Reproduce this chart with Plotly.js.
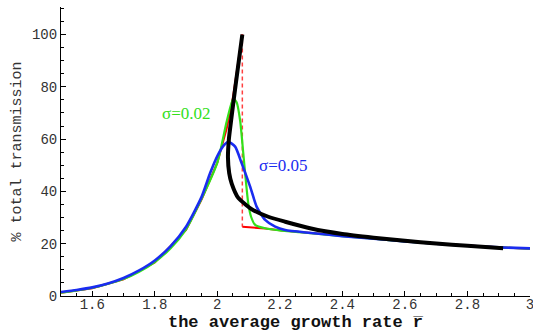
<!DOCTYPE html>
<html>
<head>
<meta charset="utf-8">
<script src="https://cdn.plot.ly/plotly-3.0.1.min.js"></script>
<style>html,body{margin:0;padding:0;background:#fff;}#chart{width:533px;height:332px;}</style>
</head>
<body>
<div id="chart"></div>
<script>
// red: deterministic curve (left branch, jump, right branch)
const redLeftX = [1.5, 1.6, 1.7, 1.8, 1.9, 1.95, 2.0, 2.03, 2.05, 2.065, 2.08];
const redLeftY = [1.2, 3.0, 6.4, 12.8, 25.3, 37, 51, 64, 76, 88, 100];
const redDropX = [2.08, 2.08];
const redDropY = [100, 26.5];
const redRightX = [2.08, 2.12, 2.153, 2.2, 2.3, 2.4, 2.5, 2.6, 2.7, 2.8, 2.9, 3.0];
const redRightY = [26.5, 26.2, 25.8, 25.1, 24.0, 22.9, 21.9, 20.9, 20.0, 19.2, 18.6, 18.1];

// green: sigma = 0.02
const greenX = [1.5, 1.6, 1.7, 1.75, 1.8, 1.85, 1.9, 1.945, 2.0, 2.03, 2.051, 2.062, 2.073, 2.083, 2.091, 2.099, 2.108, 2.121, 2.153, 2.2, 2.3, 2.4, 2.5, 2.6, 2.7, 2.8, 2.9, 3.0];
const greenY = [1.3, 3.1, 6.5, 9.3, 13.0, 18.2, 25.5, 36, 51, 66.7, 75.5, 74, 67, 54.6, 44.4, 35.4, 30.3, 27.2, 25.9, 25.1, 24.0, 22.9, 21.9, 20.9, 20.0, 19.2, 18.6, 18.1];

// blue: sigma = 0.05
const blueX = [1.5, 1.55, 1.6, 1.65, 1.7, 1.75, 1.8, 1.85, 1.9, 1.95, 1.977, 2.0, 2.02, 2.035, 2.057, 2.078, 2.105, 2.126, 2.153, 2.185, 2.217, 2.3, 2.4, 2.5, 2.6, 2.7, 2.8, 2.9, 3.0];
const blueY = [1.5, 2.3, 3.3, 4.8, 6.9, 9.8, 13.6, 19.0, 26.5, 38, 47, 53.5, 57.5, 59, 57.1, 50.7, 41.8, 34.1, 29.1, 26.5, 25.2, 24.1, 22.9, 21.9, 20.9, 20.0, 19.2, 18.6, 18.2];

// black: folded curve
const blackX = [2.08, 2.06, 2.045, 2.037, 2.034, 2.038, 2.046, 2.067, 2.09, 2.11, 2.163, 2.217, 2.3, 2.4, 2.5, 2.6, 2.7, 2.8, 2.914];
const blackY = [100, 82, 68, 60, 53, 47, 43, 37.5, 35, 33.2, 30.3, 28.4, 25.8, 23.7, 22.3, 21.1, 20.1, 19.2, 18.3];

const xTicks = [1.6, 1.8, 2, 2.2, 2.4, 2.6, 2.8, 3];
const yTicks = [0, 20, 40, 60, 80, 100];

const labels = [
  {text: 'σ=0.02', x: 1.9, y: 69.7, color: '#33e01a'},
  {text: 'σ=0.05', x: 2.211, y: 49.8, color: '#1a2cf0'}
];

const traces = [
  {x: redLeftX, y: redLeftY, mode: 'lines', line: {color: '#ff0000', width: 2}},
  {x: redDropX, y: redDropY, mode: 'lines', line: {color: '#ff4040', width: 1.5, dash: '4px,3px'}},
  {x: redRightX, y: redRightY, mode: 'lines', line: {color: '#ff0000', width: 2}},
  {x: greenX, y: greenY, mode: 'lines', line: {color: '#33e01a', width: 2.2, shape: 'spline', smoothing: 0.6}},
  {x: blueX, y: blueY, mode: 'lines', line: {color: '#1a2cf0', width: 2.6, shape: 'spline', smoothing: 0.6}},
  {x: blackX, y: blackY, mode: 'lines', line: {color: '#000000', width: 4, shape: 'spline', smoothing: 0.6}}
];

const layout = {
  width: 533, height: 332,
  margin: {l: 61, r: 3, t: 7, b: 36},
  paper_bgcolor: '#fff', plot_bgcolor: '#fff',
  showlegend: false,
  font: {family: 'Liberation Mono, Courier New, monospace', color: '#222', size: 14},
  xaxis: {
    range: [1.5, 3.0001], tickmode: 'array', tickvals: xTicks,
    ticks: 'inside', ticklen: 5, tickcolor: '#000', tickwidth: 1,
    ticklabelstandoff: -5, ticklabeloverflow: 'allow',
    showline: true, linecolor: '#000', linewidth: 1, showgrid: false, zeroline: false,
    tickfont: {family: 'Liberation Mono, monospace', size: 14, color: '#333'},
    minor: {dtick: 0.05, tick0: 1.5, ticks: 'inside', ticklen: 3, tickcolor: '#000', showgrid: false},
    title: {text: 'the average growth rate r\u0305', standoff: 4,
      font: {family: 'Liberation Mono, monospace', size: 17, color: '#111', weight: 'bold'}}
  },
  yaxis: {
    range: [0, 110.5], tickmode: 'array', tickvals: yTicks,
    ticks: 'inside', ticklen: 5, tickcolor: '#000', tickwidth: 1,
    showline: true, linecolor: '#000', linewidth: 1, showgrid: false, zeroline: false,
    tickfont: {family: 'Liberation Mono, monospace', size: 14, color: '#333'},
    minor: {dtick: 5, tick0: 0, ticks: 'inside', ticklen: 3, tickcolor: '#000', showgrid: false},
    title: {text: '% total transmission', standoff: 6,
      font: {family: 'Liberation Mono, monospace', size: 15, color: '#333'}}
  },
  annotations: labels.map(a => ({
    text: a.text, x: a.x, y: a.y, xref: 'x', yref: 'y', showarrow: false,
    font: {family: 'Liberation Serif, Times New Roman, serif', size: 17, color: a.color}
  }))
};

Plotly.newPlot('chart', traces, layout, {displayModeBar: false, staticPlot: true});
</script>
</body>
</html>
